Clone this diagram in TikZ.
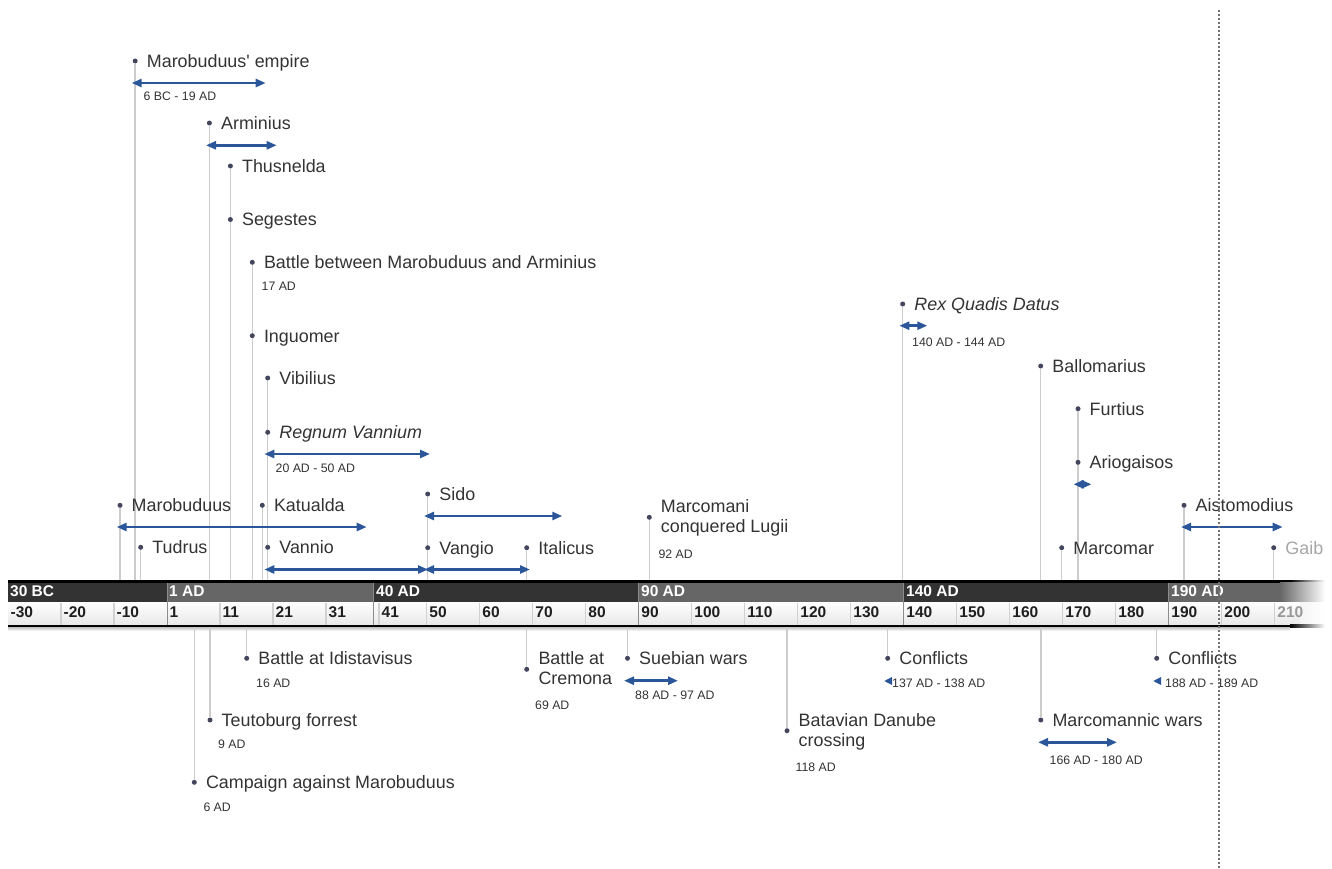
\documentclass[tikz,border=0pt]{standalone}
\usepackage{fontspec}
\setmainfont{Liberation Sans}[Ligatures=TeXOff]
\usetikzlibrary{arrows.meta,calc}
\definecolor{dotc}{HTML}{44465E}
\definecolor{txt}{HTML}{333333}
\definecolor{arrc}{HTML}{2B579A}
\definecolor{linec}{HTML}{CCCCCC}
\definecolor{bdark}{HTML}{333333}
\definecolor{bmid}{HTML}{666666}
\tikzset{
 evdot/.style={circle,fill=dotc,inner sep=0pt,minimum size=5pt},
 lbl/.style={anchor=base west,inner sep=0pt,text=txt,font=\fontsize{17.9}{20}\selectfont},
 dte/.style={anchor=base west,inner sep=0pt,text=txt,font=\fontsize{12.3}{14}\selectfont},
 conn/.style={draw=linec,line width=1.5pt},
 span/.style={draw=arrc,line width=2.5pt,{Triangle[length=10pt,width=8pt]}-{Triangle[length=10pt,width=8pt]}},
 bandlbl/.style={anchor=base west,inner sep=0pt,text=white,font=\fontsize{15.5}{18}\bfseries\selectfont},
 ticklbl/.style={anchor=base west,inner sep=0pt,text=black!88,font=\fontsize{15.5}{18}\bfseries\selectfont},
 sep/.style={draw=black!18,line width=1.5pt},
 bsep/.style={draw=black!45,line width=1pt},
}
\newcommand\evup[3]{\node[evdot] (#1) at (#2,#3) {};\draw[conn] (#1.south) -- (#1 |- bartop);}
\newcommand\evdn[3]{\node[evdot] (#1) at (#2,#3) {};\draw[conn] (#1.north) -- (#1 |- barbot);}
\newcommand\evlbl[2]{\node[lbl] (#1-l) at ($(#1)+(11.5,6.3)$) {#2};}
\newcommand\evspan[4]{\coordinate (#1-a) at (#2,#4);\coordinate (#1-b) at (#3,#4);\draw[span] (#1-a) -- (#1-b);}
\begin{document}
\begin{tikzpicture}[x=1pt,y=-1pt]
\useasboundingbox (0,0) rectangle (1332,868);
\coordinate (bartop) at (0,580);
\coordinate (barbot) at (0,627);
% ---------- axis bar ----------
\fill[black] (8,580) rectangle (1290,582.5);
\shade[left color=black,right color=white] (1290,580) rectangle (1325,582.5);
\fill[bdark] (8,582.5) rectangle (167,602.5);
\fill[bmid] (167,582.5) rectangle (373.7,602.5);
\fill[bdark] (373.7,582.5) rectangle (638.7,602.5);
\fill[bmid] (638.7,582.5) rectangle (903.7,602.5);
\fill[bdark] (903.7,582.5) rectangle (1168.7,602.5);
\fill[bmid] (1168.7,582.5) rectangle (1280,602.5);
\shade[left color=bmid,right color=white] (1280,582.5) rectangle (1325,602.5);
\shade[top color=white,bottom color=black!9] (8,602.5) rectangle (1300,624.5);
\shade[left color=black!4,right color=white] (1300,602.5) rectangle (1325,624.5);
\fill[black] (8,624.5) rectangle (1290,627);
\shade[left color=black,right color=white] (1290,624.5) rectangle (1325,627);
\shade[top color=black!25,bottom color=white] (8,627) rectangle (1290,631);
\foreach \x in {61,114,220,273,326,379,426.7,479.7,532.7,585.7,691.7,744.7,797.7,850.7,956.7,1009.7,1062.7,1115.7,1221.7,1274.7}
  \draw[sep] (\x,602.5) -- (\x,624.5);
\foreach \x in {167,373.7,638.7,903.7,1168.7}
  \draw[bsep] (\x,582.5) -- (\x,624.5);
\node[bandlbl] (b1) at (10,596.5) {30 BC};
\node[bandlbl] (b2) at (169,596.5) {1 AD};
\node[bandlbl] (b3) at (376,596.5) {40 AD};
\node[bandlbl] (b4) at (641,596.5) {90 AD};
\node[bandlbl] (b5) at (906,596.5) {140 AD};
\node[bandlbl] (b6) at (1171,596.5) {190 AD};
\foreach \x/\t [count=\i] in {8/-30,61/-20,114/-10,167/1,220/11,273/21,326/31,379/41,426.7/50,479.7/60,532.7/70,585.7/80,638.7/90,691.7/100,744.7/110,797.7/120,850.7/130,903.7/140,956.7/150,1009.7/160,1062.7/170,1115.7/180,1168.7/190,1221.7/200}
  \node[ticklbl] (tk\i) at (\x+2.5,617.5) {\t};
\node[ticklbl,text=black!40] (tk25) at (1277.2,617.5) {210};
% ---------- events above ----------
\evup{emp}{135.2}{61}\evlbl{emp}{Marobuduus' empire}
\node[dte] (emp-d) at (143.5,100) {6 BC - 19 AD};
\evup{arm}{209.4}{123}\evlbl{arm}{Arminius}
\evup{thu}{230.4}{166}\evlbl{thu}{Thusnelda}
\evup{seg}{230.4}{219.5}\evlbl{seg}{Segestes}
\evup{bat}{252.3}{262.3}\evlbl{bat}{Battle between Marobuduus and Arminius}
\node[dte] (bat-d) at (261.5,290.8) {17 AD};
\evup{ing}{252.3}{335.7}\evlbl{ing}{Inguomer}
\evup{vib}{267.7}{378}\evlbl{vib}{Vibilius}
\evup{reg}{267.7}{432.3}\evlbl{reg}{\itshape Regnum Vannium}
\node[dte] (reg-d) at (275.5,472.5) {20 AD - 50 AD};
\evup{mar}{120}{505.3}\evlbl{mar}{Marobuduus}
\evup{kat}{262.3}{505.3}\evlbl{kat}{Katualda}
\evup{tud}{140.7}{547.3}\evlbl{tud}{Tudrus}
\evup{van}{267.7}{547.3}\evlbl{van}{Vannio}
\evup{sid}{427.7}{494}\evlbl{sid}{Sido}
\evup{vng}{427.7}{547.7}\evlbl{vng}{Vangio}
\evup{ita}{526.7}{547.7}\evlbl{ita}{Italicus}
\evup{mcl}{649.3}{517.3}
\node[lbl] (mcl-l1) at (660.7,512.7) {Marcomani};
\node[lbl] (mcl-l2) at (660.7,532.7) {conquered Lugii};
\node[dte] (mcl-d) at (658.3,558.3) {92 AD};
\evup{rex}{902.7}{304}\evlbl{rex}{\itshape Rex Quadis Datus}
\node[dte] (rex-d) at (912,346) {140 AD - 144 AD};
\evup{bal}{1040.7}{366}\evlbl{bal}{Ballomarius}
\evup{fur}{1078}{408.7}\evlbl{fur}{Furtius}
\evup{ari}{1078}{462.3}\evlbl{ari}{Ariogaisos}
\evup{ais}{1184}{505.3}\evlbl{ais}{Aistomodius}
\evup{mcm}{1061.7}{547.7}\evlbl{mcm}{Marcomar}
\evup{gai}{1273.7}{547.7}
\node[lbl,text=black!35] (gai-l) at (1285.2,554) {Gaib};
% ---------- events below ----------
\evdn{idi}{246.7}{658.3}\evlbl{idi}{Battle at Idistavisus}
\node[dte] (idi-d) at (256,687) {16 AD};
\evdn{teu}{210}{720}\evlbl{teu}{Teutoburg forrest}
\node[dte] (teu-d) at (218,748.5) {9 AD};
\evdn{cam}{194.3}{782.3}\evlbl{cam}{Campaign against Marobuduus}
\node[dte] (cam-d) at (203.3,811) {6 AD};
\evdn{cre}{526.7}{669.3}
\node[lbl] (cre-l1) at (538.3,664.3) {Battle at};
\node[lbl] (cre-l2) at (538.3,684.3) {Cremona};
\node[dte] (cre-d) at (535,709.3) {69 AD};
\evdn{sue}{627.5}{658.3}\evlbl{sue}{Suebian wars}
\node[dte] (sue-d) at (635,699.5) {88 AD - 97 AD};
\evdn{bdc}{787}{730.7}
\node[lbl] (bdc-l1) at (798.5,726) {Batavian Danube};
\node[lbl] (bdc-l2) at (798.5,746) {crossing};
\node[dte] (bdc-d) at (795.5,771) {118 AD};
\evdn{co1}{887.7}{658.3}\evlbl{co1}{Conflicts}
\node[dte] (co1-d) at (892,687) {137 AD - 138 AD};
\evdn{mwa}{1040.8}{720}\evlbl{mwa}{Marcomannic wars}
\node[dte] (mwa-d) at (1049.5,764) {166 AD - 180 AD};
\evdn{co2}{1156.7}{658.3}\evlbl{co2}{Conflicts}
\node[dte] (co2-d) at (1165,687) {188 AD - 189 AD};
% ---------- duration arrows ----------
\evspan{emp}{131.7}{265.7}{83}
\evspan{arm}{206}{276.7}{145.3}
\evspan{reg}{264.3}{430}{454}
\evspan{mar}{116.7}{366.7}{527}
\evspan{van}{264.3}{428}{569.5}
\evspan{sid}{424}{562.3}{516}
\evspan{vng}{424}{530}{569.5}
\evspan{rex}{899.3}{927.3}{325.7}
\evspan{ari}{1073.5}{1091.5}{484.3}
\evspan{ais}{1181}{1282.7}{527}
\evspan{sue}{624}{678}{680.7}
\evspan{mwa}{1038}{1117}{742.3}
\fill[arrc] (884.3,681) -- (892,677) -- (892,685) -- cycle;
\fill[arrc] (1153.3,681) -- (1161,677) -- (1161,685) -- cycle;
% ---------- today marker ----------
\coordinate (nowtop) at (1219,10);
\coordinate (nowbot) at (1219,868);
\draw[black!55,line width=1.5pt,dash pattern=on 2pt off 2pt] (nowtop) -- (nowbot);
\end{tikzpicture}
\end{document}
